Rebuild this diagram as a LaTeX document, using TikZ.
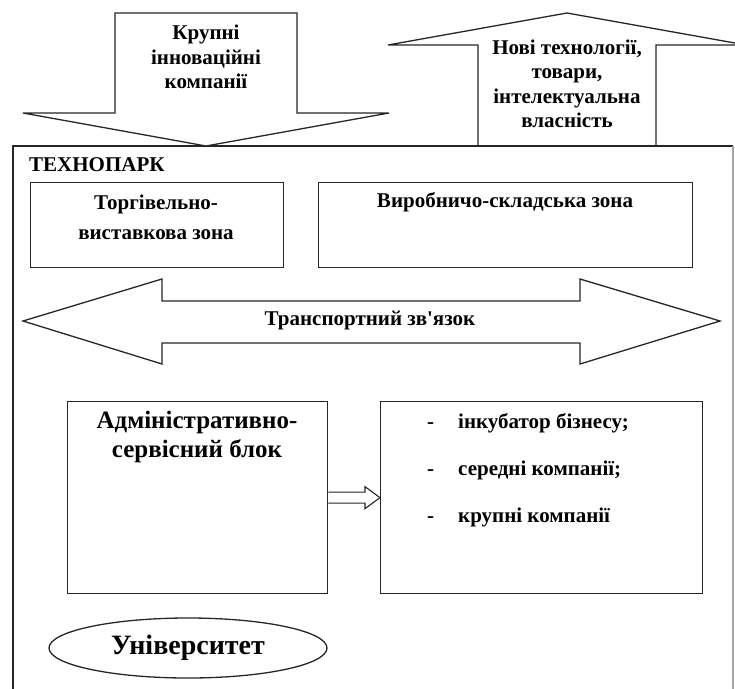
\documentclass[tikz,border=0pt]{standalone}
\usepackage{fontspec}
\setmainfont{Liberation Serif}
\usetikzlibrary{shapes.geometric,positioning,calc}

\begin{document}
\begin{tikzpicture}[x=1pt,y=-1pt,
    line/.style={draw=black!85,line width=1.3pt},
    zone/.style={line,rectangle,inner sep=0pt},
    lbl/.style={font=\bfseries\fontsize{21}{24.5}\selectfont,align=center,inner sep=0pt},
    biglbl/.style={font=\bfseries\fontsize{25}{29}\selectfont,align=center,inner sep=0pt}]
        % Page
        \useasboundingbox (0,0) rectangle (735,688);
        \clip (0,0) rectangle (735,688);

        % Technopark frame
        \draw[line] (13,700) -- (13,146) -- (733,146);
        \draw[line,draw=black!35] (733,146) -- (733,700);
        \node[lbl,anchor=west] (park) at (29,165) {ТЕХНОПАРК};

        % Arrow in: large companies
        \draw[line,fill=white] (115,13) -- (297,13) -- (297,113) -- (389,113) -- (206,146)
            -- (23,113) -- (115,113) -- cycle;
        \node[lbl] (bigcomp) at (206,57) {Крупні\\інноваційні\\компанії};

        % Arrow out: results
        \draw[line] (478,146) -- (478,45) -- (388,45) -- (567,13) -- (746,45) -- (656,45) -- (656,146);
        \node[lbl] (results) at (567,84) {Нові технології,\\товари,\\інтелектуальна\\власність};

        % Zones
        \node[zone,minimum width=253pt,minimum height=85pt,anchor=north west] (trade) at (30,182) {};
        \node[zone,minimum width=374pt,minimum height=85pt,anchor=north west] (store) at (318,182) {};
        \node[lbl] (tradetxt) at (156,217) {Торгівельно-\\[5.5pt]виставкова зона};
        \node[lbl] (storetxt) at (505,202) {Виробничо-складська зона};

        % Transport link
        \draw[line] (23,321) -- (162,279) -- (162,301) -- (580,301) -- (580,279) -- (720,321)
            -- (580,364) -- (580,343) -- (162,343) -- (162,364) -- cycle;
        \node[lbl] (transport) at (370,321) {Транспортний зв\textquotesingle язок};

        % Blocks
        \node[zone,minimum width=260pt,minimum height=192pt,anchor=north west] (adm) at (67,401) {};
        \node[zone,minimum width=322pt,minimum height=192pt,anchor=north west] (firms) at (380,401) {};
        \node[biglbl] (admtxt) at (197,437) {Адміністративно-\\сервісний блок};
        \node[lbl,anchor=west] (item1) at (427,423) {\makebox[31pt][l]{-}інкубатор бізнесу;};
        \node[lbl,anchor=west] (item2) at (427,470) {\makebox[31pt][l]{-}середні компанії;};
        \node[lbl,anchor=west] (item3) at (427,517) {\makebox[31pt][l]{-}крупні компанії};

        % Hollow arrow between blocks
        \draw[line,line width=1.1pt] ($(adm.east)+(0,-5.5)$) -- ($(firms.west)+(-15,-5.5)$)
            -- ($(firms.west)+(-15,-11)$) -- (firms.west) -- ($(firms.west)+(-15,11)$)
            -- ($(firms.west)+(-15,5.5)$) -- ($(adm.east)+(0,5.5)$);

        % University
        \node[ellipse,line,minimum width=278pt,minimum height=60pt,inner sep=0pt,
            font=\bfseries\fontsize{28}{32}\selectfont] (univ) at (188,648) {Університет};
    \end{tikzpicture}
\end{document}
